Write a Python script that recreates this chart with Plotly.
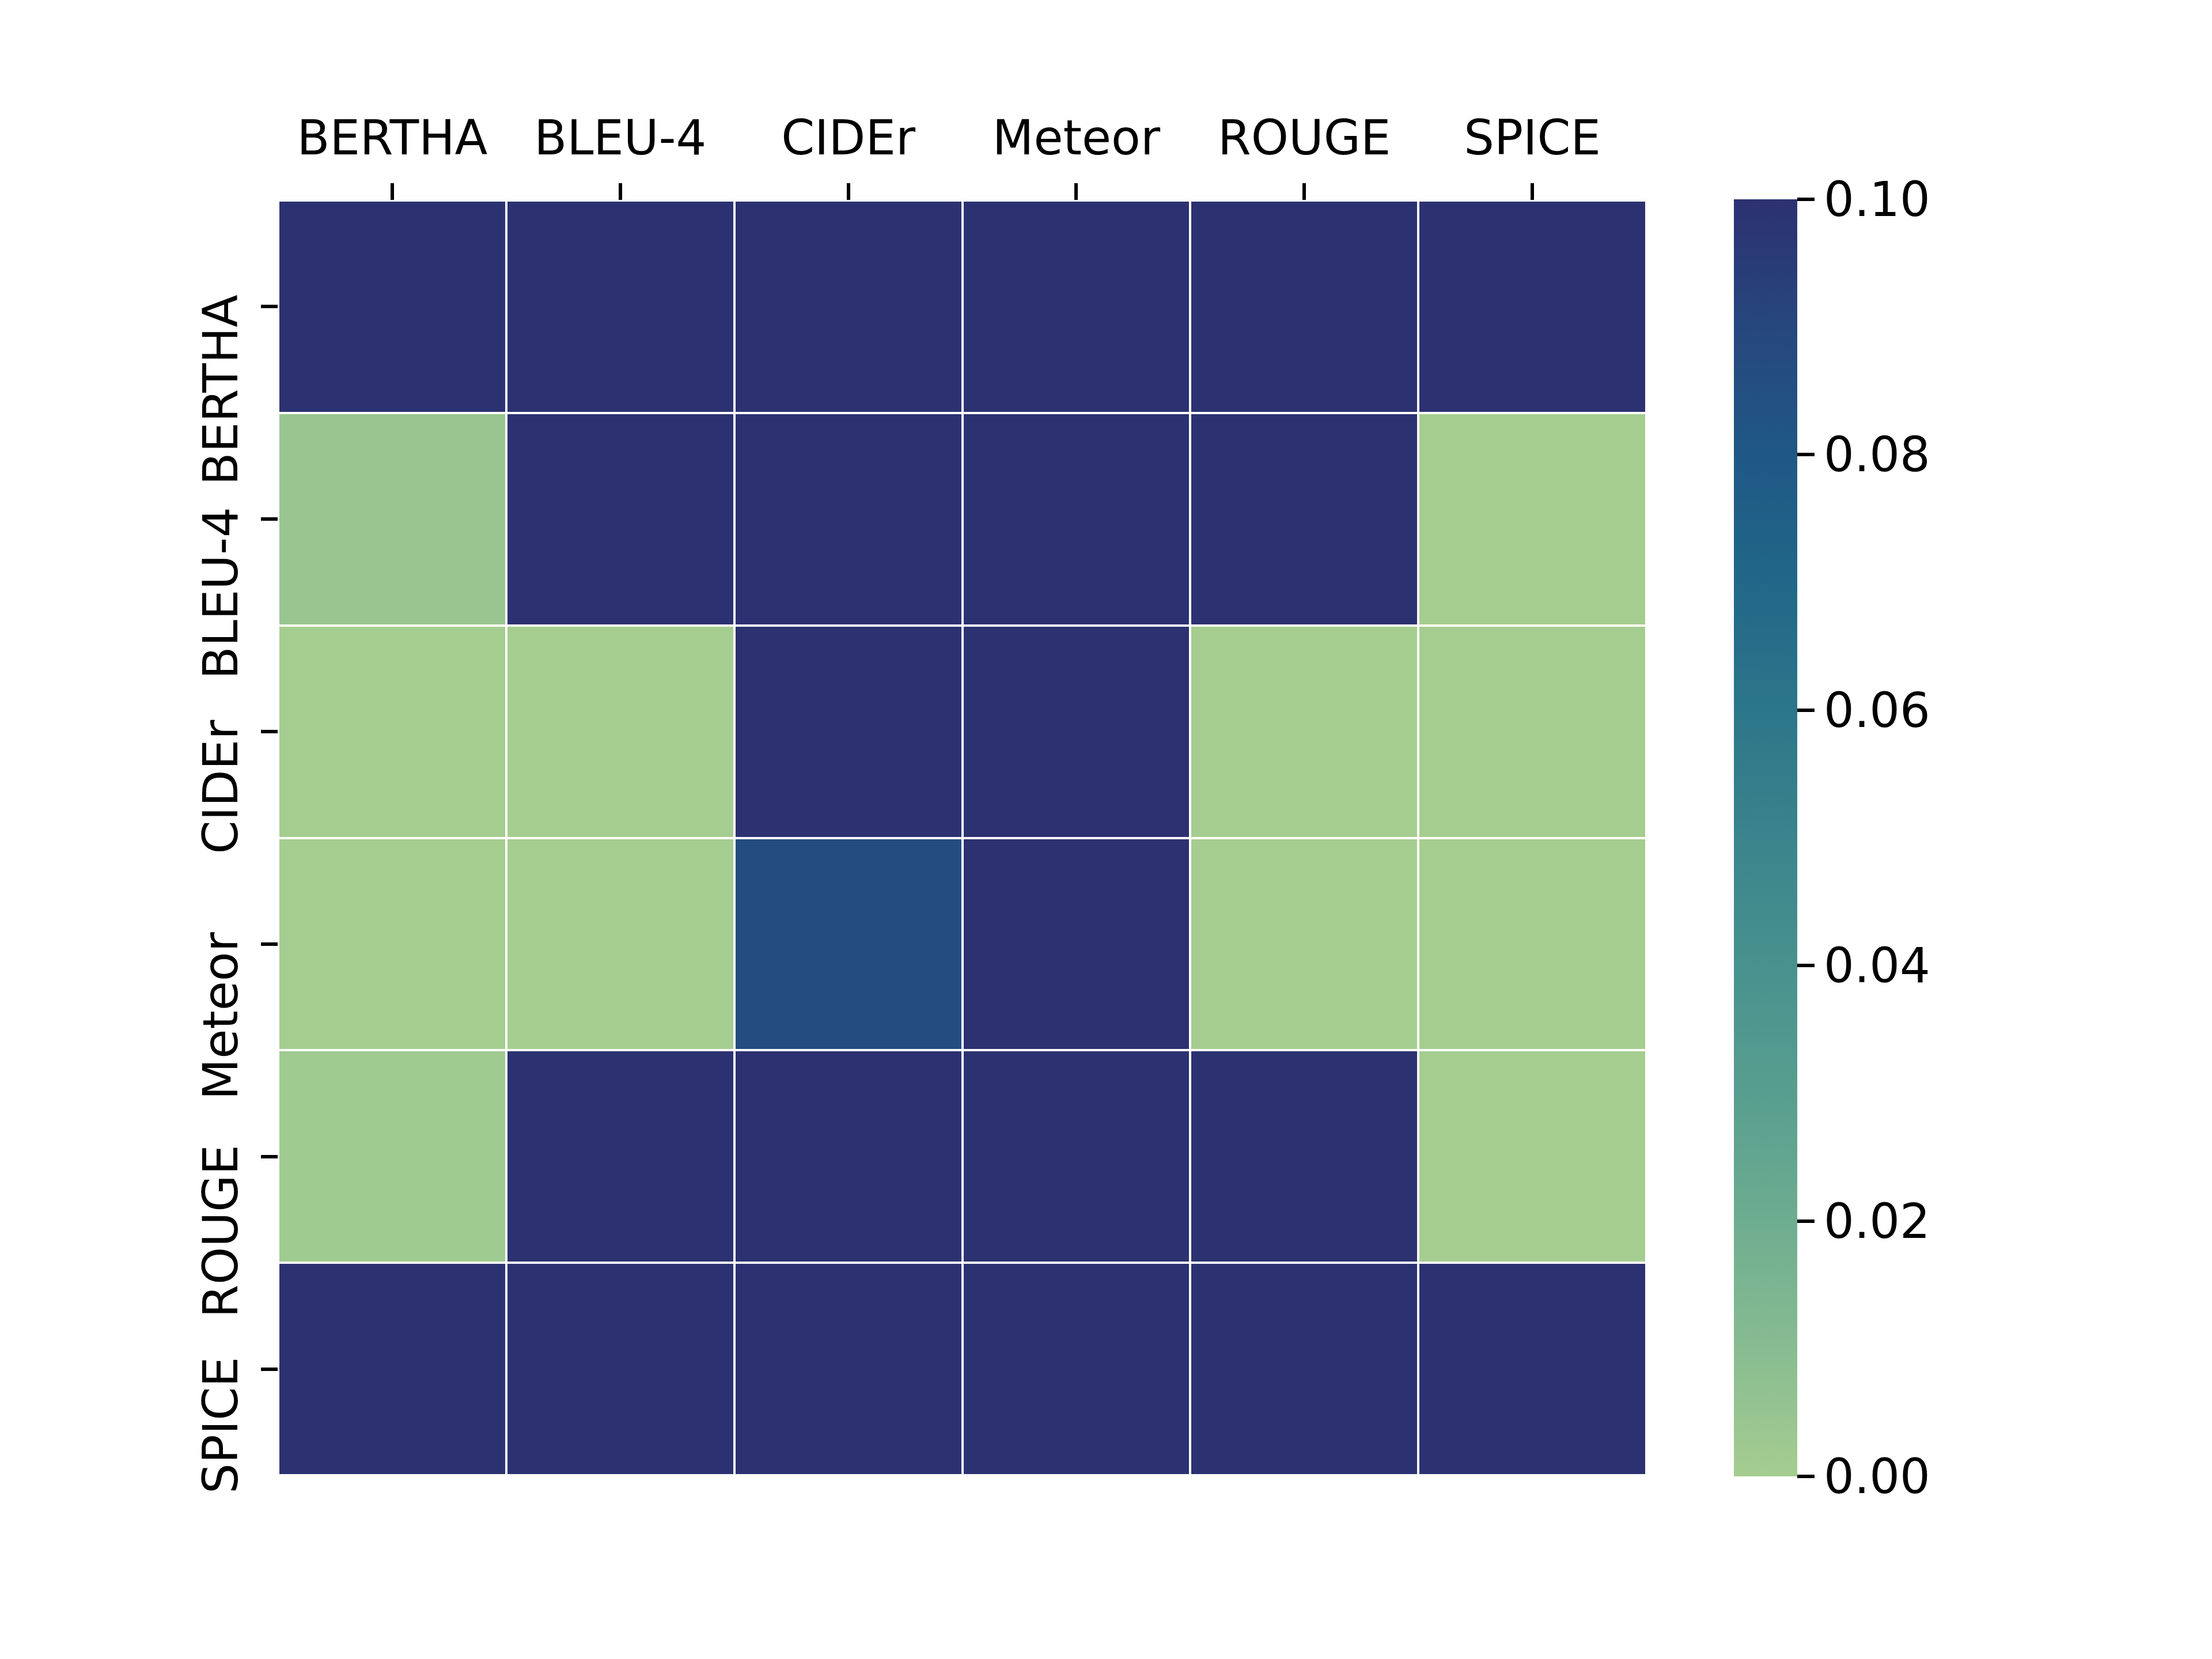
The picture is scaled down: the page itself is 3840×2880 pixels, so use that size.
import plotly.graph_objects as go

metrics = ["BERTHA", "BLEU-4", "CIDEr", "Meteor", "ROUGE", "SPICE"]

# rows (top to bottom) x columns (left to right); values above 0.1 are shown clipped
row_bertha = [1.00, 0.62, 0.48, 0.55, 0.41, 0.37]
row_bleu4 = [0.004, 1.00, 0.35, 0.29, 0.44, 0.000]
row_cider = [0.000, 0.000, 1.00, 0.21, 0.000, 0.000]
row_meteor = [0.000, 0.000, 0.087, 1.00, 0.000, 0.000]
row_rouge = [0.002, 0.52, 0.33, 0.27, 1.00, 0.000]
row_spice = [0.39, 0.46, 0.58, 0.31, 0.50, 1.00]

z = [row_bertha, row_bleu4, row_cider, row_meteor, row_rouge, row_spice]

cbar_ticks = [0.0, 0.02, 0.04, 0.06, 0.08, 0.10]

crest = [
    [0.0, "#A5CD90"],
    [0.1, "#88BC91"],
    [0.2, "#6DAD90"],
    [0.3, "#589E8F"],
    [0.4, "#48918E"],
    [0.5, "#3A848C"],
    [0.6, "#2C768A"],
    [0.7, "#216788"],
    [0.8, "#1F5885"],
    [0.9, "#26477E"],
    [1.0, "#2C3171"],
]

FONT = "DejaVu Sans"
FS = 83

# page body offset (8px) compensated
L, T = 475, 340
PW, PH = 2375, 2213
n = len(metrics)

fig = go.Figure(
    go.Heatmap(
        z=z,
        x=metrics,
        y=metrics,
        zmin=0,
        zmax=0.1,
        colorscale=crest,
        xgap=4,
        ygap=4,
        colorbar=dict(
            thickness=110,
            thicknessmode="pixels",
            len=2217,
            lenmode="pixels",
            x=(3010 - 483) / PW,
            xanchor="left",
            xpad=0,
            y=0.5,
            yanchor="middle",
            ypad=0,
            outlinewidth=0,
            ticks="outside",
            ticklen=30,
            tickwidth=6,
            tickcolor="black",
            tickvals=cbar_ticks,
            tickformat=".2f",
            tickfont=dict(family=FONT, size=FS, color="black"),
        ),
    )
)

# rotated y labels, anchored like matplotlib (text top just above tick)
for m in metrics:
    fig.add_annotation(
        x=0,
        xref="paper",
        y=m,
        yref="y",
        text=m,
        textangle=-90,
        showarrow=False,
        xanchor="right",
        yanchor="top",
        xshift=-50,
        yshift=22,
        borderpad=0,
        font=dict(family=FONT, size=FS, color="black"),
    )

fig.update_layout(
    width=3840,
    height=2880,
    margin=dict(l=L, r=3840 - L - PW, t=T, b=2880 - T - PH),
    paper_bgcolor="white",
    plot_bgcolor="white",
    font=dict(family=FONT, size=FS, color="black"),
)

fig.update_xaxes(
    side="top",
    range=[-0.5, n - 0.5],
    autorange=False,
    ticks="outside",
    ticklen=29,
    tickwidth=6,
    tickcolor="black",
    ticklabelstandoff=17,
    showgrid=False,
    showline=False,
    zeroline=False,
    tickfont=dict(family=FONT, size=FS, color="black"),
)
fig.update_yaxes(
    range=[n - 0.5, -0.5],
    autorange=False,
    ticks="outside",
    ticklen=29,
    tickwidth=6,
    tickcolor="black",
    showticklabels=False,
    showgrid=False,
    showline=False,
    zeroline=False,
)

fig.write_html("out.html")
